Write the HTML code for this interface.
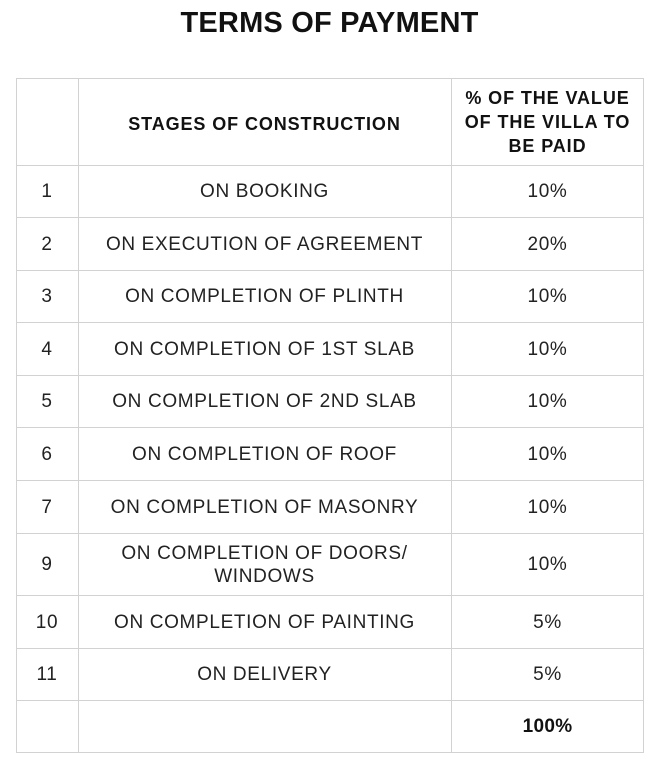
<!DOCTYPE html>
<html>
<head>
<meta charset="utf-8">
<style>
  html,body{margin:0;padding:0;background:#fff;}
  body{width:659px;height:768px;position:relative;overflow:hidden;font-family:"Liberation Sans",Arial,sans-serif;color:#222;}
  .title{position:absolute;left:0;width:659px;top:9px;text-align:center;font-weight:bold;font-size:29px;line-height:29px;color:#111;letter-spacing:0.2px;}
  .h{position:absolute;height:1px;background:#d2d2d2;left:16px;width:628px;}
  .v{position:absolute;width:1px;background:#d2d2d2;top:78px;height:675px;}
  .c{position:absolute;display:flex;align-items:center;justify-content:center;text-align:center;font-size:19px;line-height:23px;letter-spacing:0.65px;padding-top:1px;box-sizing:border-box;}
  .c1{left:16px;width:62px;}
  .c2{left:78px;width:373px;}
  .c3{left:451px;width:193px;}
  .b{font-weight:bold;font-size:18px;line-height:24px;letter-spacing:0.9px;color:#111;}
</style>
</head>
<body>
<div class="title">TERMS OF PAYMENT</div>

<div class="h" style="top:78px"></div>
<div class="h" style="top:165px"></div>
<div class="h" style="top:217px"></div>
<div class="h" style="top:270px"></div>
<div class="h" style="top:322px"></div>
<div class="h" style="top:375px"></div>
<div class="h" style="top:427px"></div>
<div class="h" style="top:480px"></div>
<div class="h" style="top:533px"></div>
<div class="h" style="top:595px"></div>
<div class="h" style="top:648px"></div>
<div class="h" style="top:700px"></div>
<div class="h" style="top:752px"></div>

<div class="v" style="left:16px"></div>
<div class="v" style="left:78px"></div>
<div class="v" style="left:451px"></div>
<div class="v" style="left:643px"></div>

<!-- header -->
<div class="c c2 b" style="top:78px;height:90px;">STAGES OF CONSTRUCTION</div>
<div class="c c3 b" style="top:78px;height:87px;">% OF THE VALUE<br>OF THE VILLA TO<br>BE PAID</div>

<!-- rows -->
<div class="c c1" style="top:165px;height:52px;">1</div>
<div class="c c2" style="top:165px;height:52px;">ON BOOKING</div>
<div class="c c3" style="top:165px;height:52px;">10%</div>

<div class="c c1" style="top:217px;height:53px;">2</div>
<div class="c c2" style="top:217px;height:53px;">ON EXECUTION OF AGREEMENT</div>
<div class="c c3" style="top:217px;height:53px;">20%</div>

<div class="c c1" style="top:270px;height:52px;">3</div>
<div class="c c2" style="top:270px;height:52px;">ON COMPLETION OF PLINTH</div>
<div class="c c3" style="top:270px;height:52px;">10%</div>

<div class="c c1" style="top:322px;height:53px;">4</div>
<div class="c c2" style="top:322px;height:53px;">ON COMPLETION OF 1ST SLAB</div>
<div class="c c3" style="top:322px;height:53px;">10%</div>

<div class="c c1" style="top:375px;height:52px;">5</div>
<div class="c c2" style="top:375px;height:52px;">ON COMPLETION OF 2ND SLAB</div>
<div class="c c3" style="top:375px;height:52px;">10%</div>

<div class="c c1" style="top:427px;height:53px;">6</div>
<div class="c c2" style="top:427px;height:53px;">ON COMPLETION OF ROOF</div>
<div class="c c3" style="top:427px;height:53px;">10%</div>

<div class="c c1" style="top:480px;height:53px;">7</div>
<div class="c c2" style="top:480px;height:53px;">ON COMPLETION OF MASONRY</div>
<div class="c c3" style="top:480px;height:53px;">10%</div>

<div class="c c1" style="top:533px;height:62px;">9</div>
<div class="c c2" style="top:533px;height:62px;">ON COMPLETION OF DOORS/<br>WINDOWS</div>
<div class="c c3" style="top:533px;height:62px;">10%</div>

<div class="c c1" style="top:595px;height:53px;">10</div>
<div class="c c2" style="top:595px;height:53px;">ON COMPLETION OF PAINTING</div>
<div class="c c3" style="top:595px;height:53px;">5%</div>

<div class="c c1" style="top:648px;height:52px;">11</div>
<div class="c c2" style="top:648px;height:52px;">ON DELIVERY</div>
<div class="c c3" style="top:648px;height:52px;">5%</div>

<div class="c c3 b" style="top:700px;height:53px;font-size:19px;letter-spacing:0.3px;">100%</div>
</body>
</html>
